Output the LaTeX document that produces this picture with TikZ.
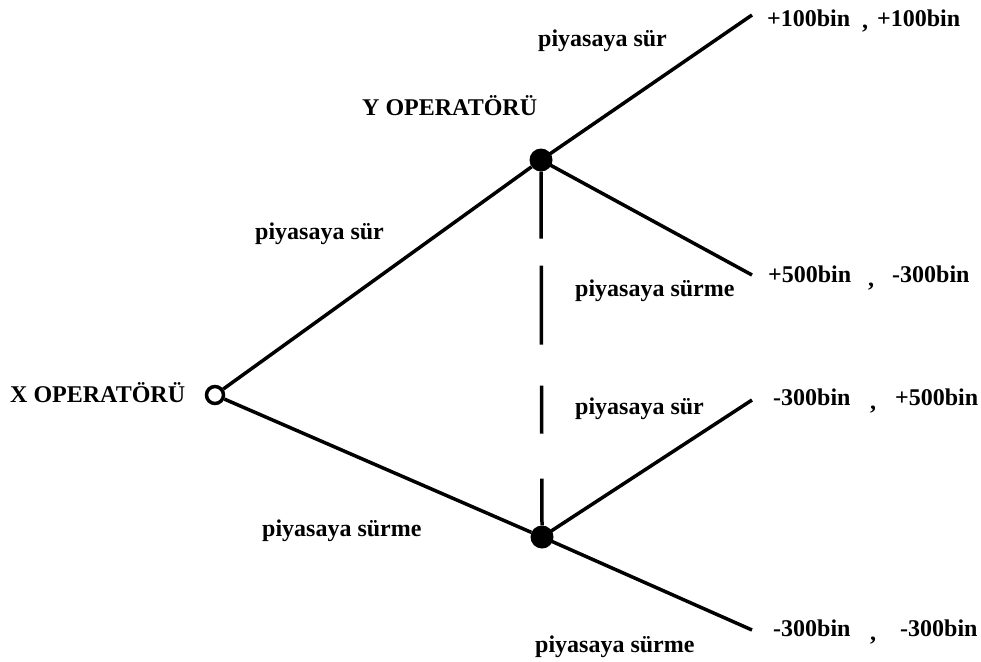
\documentclass[tikz,border=0pt]{standalone}
\usepackage{fontspec}
\setmainfont{Liberation Serif}
\begin{document}
\begin{tikzpicture}[x=1pt,y=-1pt,
  lbl/.style={inner sep=0pt,anchor=base west,font=\fontsize{24}{28}\selectfont\bfseries},
  branch/.style={line width=3.5pt},
  opennode/.style={circle,draw,line width=3.5pt,fill=white,minimum size=17pt,inner sep=0pt},
  fullnode/.style={circle,fill=black,minimum size=23pt,inner sep=0pt}]
\useasboundingbox (0,0) rectangle (981,661);
% decision nodes
\node[opennode] (X) at (215,395) {};
\node[fullnode] (Y1) at (541,160) {};
\node[fullnode] (Y2) at (542,537) {};
% leaf ends
\coordinate (A) at (752,15);
\coordinate (B) at (752,275);
\coordinate (C) at (752,400);
\coordinate (D) at (752,630);
% branches
\draw[branch] (X) -- (Y1);
\draw[branch] (X) -- (Y2);
\draw[branch] (Y1.center) -- (A);
\draw[branch] (Y1.center) -- (B);
\draw[branch] (Y2.center) -- (C);
\draw[branch] (Y2.center) -- (D);
\draw[branch,dash pattern=on 67pt off 27pt on 79pt off 41pt on 48pt off 45pt on 60pt off 20pt] (Y1.south) -- (Y2.north);
% labels
\node[lbl] (xl) at (10,402) {X OPERATÖRÜ};
\node[lbl] (yl) at (362,115) {Y OPERATÖRÜ};
\node[lbl] (l1) at (538,46) {piyasaya sür};
\node[lbl] (l2) at (255,239) {piyasaya sür};
\node[lbl] (l3) at (575,296) {piyasaya sürme};
\node[lbl] (l4) at (575,414) {piyasaya sür};
\node[lbl] (l5) at (262,536) {piyasaya sürme};
\node[lbl] (l6) at (535,652) {piyasaya sürme};
% payoffs
\node[lbl] (p1a) at (767,27) {+100bin};
\node[lbl] (p1c) at (862,29) {,};
\node[lbl] (p1b) at (877,27) {+100bin};
\node[lbl] (p2a) at (768,282) {+500bin};
\node[lbl] (p2c) at (868,286) {,};
\node[lbl] (p2b) at (892,282) {-300bin};
\node[lbl] (p3a) at (773,405) {-300bin};
\node[lbl] (p3c) at (870,409) {,};
\node[lbl] (p3b) at (895,405) {+500bin};
\node[lbl] (p4a) at (773,636) {-300bin};
\node[lbl] (p4c) at (870,640) {,};
\node[lbl] (p4b) at (900,636) {-300bin};
\end{tikzpicture}
\end{document}
